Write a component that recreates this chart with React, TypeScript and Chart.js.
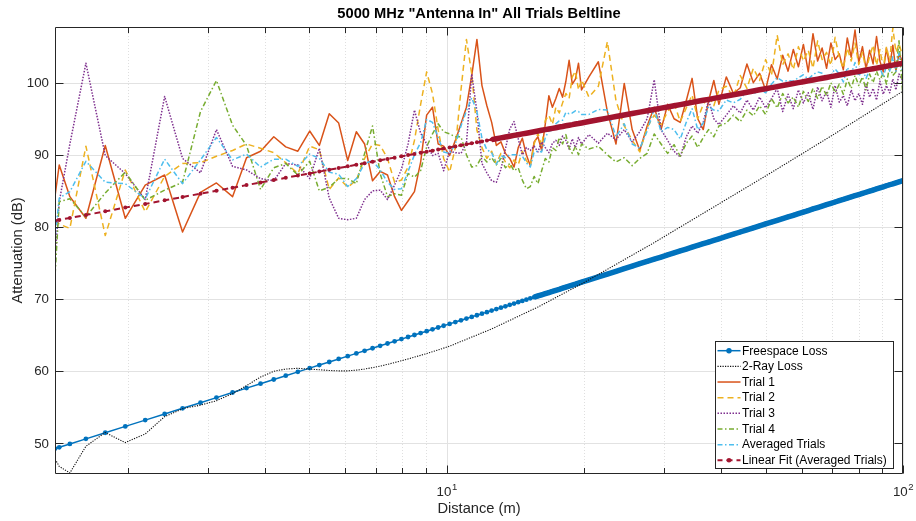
import React, { useEffect, useRef } from "react";
import { Chart, registerables } from "chart.js";

Chart.register(...registerables);

// Distances (m) shared by every series
const distance = [
  1.387, 1.416, 1.494, 1.62, 1.786, 1.976, 2.185, 2.41, 2.638, 2.888, 3.13, 3.395, 3.643, 3.91, 4.18, 4.44, 4.72, 5.01, 5.26, 5.53, 5.8, 6.07, 6.34, 6.61, 6.88, 7.15, 7.42, 7.69, 7.96, 8.23, 8.5, 8.77, 9.04, 9.31, 9.58, 9.85,
  10.15, 10.45, 10.75, 11.05, 11.35, 11.65, 11.95, 12.25, 12.55, 12.85, 13.15, 13.45, 13.75, 14.05, 14.35, 14.65, 14.95, 15.25, 15.55, 15.85, 16.15, 16.45, 16.75, 17.05, 17.35, 17.65, 17.95, 18.25, 18.55, 18.85, 19.15, 19.45, 19.75,
  20.5, 21.5, 22.5, 23.5, 24.5, 25.5, 26.5, 27.5, 28.5, 29.5, 30.5, 31.5, 32.5, 33.5, 34.5, 35.5, 36.5, 37.5, 38.5, 39.5,
  41, 42.5, 44, 45.5, 47, 48.5, 50, 51.5, 53, 54.5, 56, 57.5, 59, 60.5, 62, 63.5, 65, 66.5, 68, 69.5, 71, 72.5, 74, 75.5, 77, 78.5, 80, 81.5, 83, 84.5, 86, 87.5, 89, 90.5, 92, 93.5, 95, 96.5, 98, 100,
];

const freespaceLoss = [
  49.27, 49.45, 49.92, 50.62, 51.47, 52.35, 53.22, 54.07, 54.86, 55.64, 56.34, 57.05, 57.66, 58.27, 58.85, 59.38, 59.91, 60.43, 60.85, 61.28, 61.7, 62.09, 62.47, 62.83, 63.18, 63.52, 63.84, 64.15, 64.45, 64.74, 65.02, 65.29, 65.55, 65.81, 66.06, 66.3,
  66.56, 66.81, 67.06, 67.3, 67.53, 67.76, 67.98, 68.19, 68.4, 68.61, 68.81, 69.0, 69.2, 69.38, 69.57, 69.75, 69.92, 70.1, 70.26, 70.43, 70.59, 70.75, 70.91, 71.06, 71.22, 71.36, 71.51, 71.66, 71.8, 71.94, 72.07, 72.21, 72.34,
  72.67, 73.08, 73.47, 73.85, 74.21, 74.56, 74.9, 75.22, 75.53, 75.83, 76.12, 76.4, 76.67, 76.93, 77.19, 77.43, 77.68, 77.91, 78.14, 78.36,
  78.69, 79.0, 79.3, 79.59, 79.87, 80.14, 80.41, 80.67, 80.92, 81.16, 81.39, 81.62, 81.85, 82.07, 82.28, 82.49, 82.69, 82.89, 83.08, 83.27, 83.46, 83.64, 83.81, 83.99, 84.16, 84.33, 84.49, 84.65, 84.81, 84.97, 85.12, 85.27, 85.42, 85.56, 85.71, 85.85, 85.98, 86.12, 86.25, 86.43,
];

const twoRayLoss = [
  47.8, 46.8, 45.9, 49.6, 51.5, 50.1, 51.3, 53.7, 54.8, 55.3, 55.9, 56.9, 58.0, 59.2, 60.0, 60.3, 60.4, 60.3, 60.2, 60.1, 60.05, 60.05, 60.15, 60.3, 60.5, 60.7, 60.95, 61.2, 61.45, 61.7, 61.95, 62.2, 62.45, 62.7, 62.95, 63.2,
  63.47, 63.8, 64.12, 64.43, 64.73, 65.02, 65.31, 65.59, 65.86, 66.17, 66.47, 66.76, 67.05, 67.33, 67.61, 67.88, 68.14, 68.4, 68.65, 68.9, 69.17, 69.44, 69.7, 69.96, 70.22, 70.47, 70.71, 70.95, 71.19, 71.42, 71.65, 71.88, 72.1,
  72.67, 73.42, 74.13, 74.81, 75.46, 76.09, 76.69, 77.27, 77.83, 78.4, 78.95, 79.48, 79.99, 80.49, 80.97, 81.44, 81.9, 82.34, 82.77, 83.19,
  83.81, 84.4, 84.97, 85.52, 86.05, 86.57, 87.07, 87.56, 88.04, 88.51, 88.96, 89.41, 89.84, 90.26, 90.67, 91.08, 91.47, 91.85, 92.23, 92.59, 92.95, 93.31, 93.66, 94.0, 94.34, 94.67, 95.0, 95.32, 95.63, 95.94, 96.24, 96.53, 96.83, 97.11, 97.39, 97.67, 97.94, 98.21, 98.48, 98.83,
];

const trial1 = [
  84.4, 88.6, 84.2, 81.2, 91.3, 81.2, 85.8, 87.2, 79.3, 84.8, 86.1, 84.2, 89.6, 90.5, 92.5, 91.1, 90.5, 93.3, 91.3, 95.7, 94.4, 89.2, 93.2, 91.5, 86.4, 87.7, 87.2, 84.2, 82.3, 83.6, 84.9, 89.0, 95.5, 96.6, 91.5, 91.2,
  89.9, 92.0, 94.3, 96.6, 101.0, 106.0, 99.6, 96.8, 94.5, 91.3, 91.8, 90.2, 89.5, 88.3, 91.0, 92.3, 90.0, 88.5, 91.8, 92.5, 90.6, 94.3, 98.2, 96.6, 97.8, 99.2, 98.0, 100.2, 103.1, 99.8, 100.5, 102.7, 99.0,
  100.8, 102.9, 96.0, 91.5, 99.9, 93.5, 90.6, 94.0, 96.6, 93.5, 97.0, 95.0, 94.5, 97.5, 100.6, 95.0, 93.5, 97.5, 100.3, 97.0,
  100.8, 98.5, 99.3, 102.6, 100.0, 101.3, 99.0, 102.5, 100.5, 103.8, 101.6, 104.6, 102.2, 105.3, 101.5, 106.8, 103.0, 104.8, 102.0, 105.5, 103.2, 104.0, 101.8, 106.2, 103.5, 107.3, 102.8, 105.0, 101.9, 104.5, 102.6, 106.4, 103.0, 101.5, 104.8, 102.2, 105.2, 101.6, 104.0, 102.8,
];

const trial2 = [
  81.0, 80.4, 79.8, 91.2, 78.8, 87.9, 82.1, 87.0, 88.8, 88.9, 89.8, 90.6, 91.5, 90.9, 90.3, 88.9, 87.4, 91.2, 90.7, 85.2, 86.8, 85.5, 86.5, 89.5, 91.5, 91.3, 89.5, 86.2, 86.5, 88.3, 92.0, 97.0, 101.5, 98.5, 93.5, 89.5,
  87.6, 91.0, 99.0, 106.0, 101.2, 93.4, 91.0, 89.5, 90.5, 88.8, 90.2, 89.0, 88.2, 89.3, 88.6, 90.5, 89.2, 88.5, 91.5, 93.0, 91.2, 94.8, 95.5, 94.2, 96.6, 95.8, 97.2, 98.5, 97.8, 100.8, 101.6, 99.0, 100.4,
  98.0, 99.5, 105.7, 97.5, 94.0, 92.0, 90.4, 93.8, 95.5, 94.2, 96.0, 97.2, 94.6, 96.5, 98.3, 95.0, 97.0, 98.2, 96.8, 99.0,
  99.5, 98.0, 101.0, 99.2, 102.0, 100.3, 103.2, 101.0, 106.6, 102.5, 104.0, 101.8, 105.0, 103.0, 104.5, 102.0, 105.8, 103.2, 104.2, 102.4, 106.3, 103.5, 102.0, 104.8, 103.0, 105.5, 102.5, 104.2, 101.8, 103.6, 105.2, 102.4, 104.6, 102.0, 105.0, 103.0, 107.6, 104.2, 105.4, 103.5,
];

const trial3 = [
  76.0, 83.5, 91.5, 102.7, 89.9, 87.4, 83.8, 98.1, 89.5, 87.5, 93.5, 88.4, 87.9, 86.7, 86.4, 88.8, 88.6, 86.7, 90.9, 84.0, 81.2, 81.0, 81.2, 83.8, 85.0, 85.1, 83.8, 85.8, 88.0, 91.5, 96.2, 93.0, 91.5, 89.9, 90.2, 87.8,
  90.5, 90.3, 90.2, 91.6, 101.2, 96.0, 88.8, 87.5, 86.4, 86.2, 88.0, 90.8, 93.6, 94.6, 92.2, 90.0, 91.0, 90.6, 91.2, 90.4, 91.8, 91.0, 90.3, 91.6, 92.0, 91.3, 92.6, 92.0, 90.8, 92.2, 91.0, 92.4, 91.5,
  92.8, 91.6, 93.0, 92.1, 93.5, 91.8, 93.2, 95.0, 100.4, 93.5, 92.0, 90.5, 89.7, 92.5, 94.0, 93.0, 94.5, 97.6, 95.0, 94.2,
  95.5, 96.8, 95.8, 97.6, 96.2, 98.0, 96.5, 97.8, 99.2, 96.0, 98.4, 96.4, 99.0, 97.2, 98.6, 96.3, 99.4, 97.5, 98.8, 96.6, 99.6, 97.3, 98.2, 96.8, 99.0, 97.5, 98.5, 97.0, 99.8, 98.0, 99.2, 97.6, 100.2, 98.4, 99.6, 98.6, 100.5, 99.0, 101.2, 100.2,
];

const trial4 = [
  73.5, 83.5, 83.9, 81.4, 84.7, 87.6, 83.7, 85.1, 86.2, 96.0, 100.3, 94.1, 91.3, 85.2, 88.2, 88.8, 87.2, 89.1, 85.0, 85.5, 86.7, 86.7, 86.0, 90.2, 94.0, 87.4, 84.2, 84.6, 84.4, 87.4, 86.9, 87.8, 91.1, 92.9, 94.3, 93.2,
  92.9, 92.5, 92.5, 90.0, 88.3, 88.5, 89.8, 89.0, 89.6, 88.6, 89.5, 88.2, 88.8, 87.8, 88.2, 86.5, 85.3, 85.6, 87.0, 86.0, 87.8, 89.5, 89.0, 91.0, 90.6, 92.4, 91.5, 92.8, 91.0, 90.2, 91.2, 90.0, 91.5,
  90.8, 91.2, 90.0, 89.0, 89.6, 88.5, 89.5, 90.2, 92.9, 91.5, 90.2, 91.4, 89.8, 91.6, 92.6, 91.0, 92.4, 93.5, 92.5, 94.0,
  94.4, 95.5, 94.6, 96.2, 95.4, 96.8, 95.6, 97.8, 96.5, 98.5, 97.2, 98.0, 96.6, 98.8, 97.4, 99.2, 97.8, 99.5, 98.2, 100.0, 98.6, 99.8, 98.4, 100.5, 99.2, 101.0, 99.6, 100.8, 99.0, 101.2, 100.0, 101.6, 100.4, 101.3, 99.8, 102.4, 101.0, 101.5, 105.8, 97.8,
];

const averagedTrials = [
  78.7, 84.0, 84.9, 89.1, 86.2, 86.0, 83.9, 89.4, 86.0, 89.3, 92.4, 89.3, 90.1, 88.3, 89.4, 89.4, 88.4, 90.1, 89.5, 87.6, 87.3, 85.6, 86.7, 88.8, 89.2, 87.9, 86.2, 85.2, 85.3, 87.7, 90.0, 91.7, 94.9, 94.5, 92.4, 90.4,
  90.2, 91.5, 94.0, 96.1, 97.9, 96.0, 92.3, 90.7, 90.3, 88.7, 89.9, 89.6, 90.0, 90.0, 90.0, 89.8, 88.9, 88.3, 90.4, 90.5, 90.4, 92.4, 93.3, 93.4, 94.3, 94.7, 94.8, 95.9, 95.7, 95.8, 96.1, 96.0, 95.6,
  95.6, 96.3, 96.2, 92.5, 94.3, 91.5, 90.9, 93.3, 96.4, 93.2, 93.8, 93.5, 92.2, 94.5, 96.4, 93.5, 94.4, 96.7, 96.2, 96.1,
  97.6, 97.2, 97.7, 98.9, 98.4, 99.1, 98.6, 99.8, 100.7, 100.2, 100.3, 100.2, 100.7, 101.1, 100.5, 101.1, 101.5, 101.3, 100.8, 101.1, 101.9, 101.2, 100.1, 102.1, 101.2, 102.8, 100.9, 101.8, 100.6, 101.8, 101.8, 102.0, 102.1, 100.8, 102.3, 101.6, 103.6, 101.6, 104.1, 101.1,
];

const linearFit = [
  80.87, 80.98, 81.25, 81.66, 82.16, 82.68, 83.19, 83.69, 84.15, 84.61, 85.02, 85.44, 85.8, 86.16, 86.5, 86.81, 87.12, 87.42, 87.67, 87.93, 88.17, 88.4, 88.62, 88.84, 89.04, 89.24, 89.43, 89.61, 89.79, 89.96, 90.12, 90.28, 90.44, 90.58, 90.73, 90.87,
  91.03, 91.17, 91.32, 91.46, 91.6, 91.73, 91.86, 91.99, 92.11, 92.23, 92.35, 92.46, 92.57, 92.69, 92.79, 92.9, 93.0, 93.1, 93.2, 93.3, 93.4, 93.49, 93.58, 93.67, 93.76, 93.85, 93.93, 94.02, 94.1, 94.18, 94.27, 94.34, 94.42,
  94.61, 94.86, 95.09, 95.31, 95.52, 95.73, 95.92, 96.11, 96.29, 96.47, 96.64, 96.81, 96.96, 97.12, 97.27, 97.42, 97.56, 97.69, 97.83, 97.96,
  98.15, 98.33, 98.51, 98.68, 98.85, 99.01, 99.16, 99.31, 99.46, 99.6, 99.74, 99.88, 100.01, 100.14, 100.26, 100.38, 100.5, 100.62, 100.73, 100.84, 100.95, 101.06, 101.16, 101.27, 101.37, 101.46, 101.56, 101.66, 101.75, 101.84, 101.93, 102.02, 102.11, 102.19, 102.27, 102.36, 102.44, 102.52, 102.6, 102.7,
];

const seriesNames = [
  "Freespace Loss",
  "2-Ray Loss",
  "Trial 1",
  "Trial 2",
  "Trial 3",
  "Trial 4",
  "Averaged Trials",
  "Linear Fit (Averaged Trials)",
];

const yTicks = [50, 60, 70, 80, 90, 100];
const xMajorTicks = [10, 100];
const xMajorExponents = ["1", "2"];
const xMinorTicks = [2, 3, 4, 5, 6, 7, 8, 9, 20, 30, 40, 50, 60, 70, 80, 90];

const titleText = '5000 MHz "Antenna In" All Trials Beltline';
const xLabelText = "Distance (m)";
const yLabelText = "Attenuation (dB)";

const X_MIN = 1.386;
const X_MAX = 100;
const Y_MIN = 45.75;
const Y_MAX = 107.72;

const FONT = '"Liberation Sans", Arial, Helvetica, sans-serif';
const AXIS_COLOR = "#262626";

type SeriesStyle = {
  color: string;
  width: number;
  dash: number[];
  marker: number;
  // distance (m) past which the markers merge into a solid band
  bandFrom?: number;
  bandWidth?: number;
};

const seriesStyles: SeriesStyle[] = [
  { color: "#0072BD", width: 1.5, dash: [], marker: 2.4, bandFrom: 15.5, bandWidth: 5.5 },
  { color: "#111111", width: 1.1, dash: [1.2, 1.3], marker: 0 },
  { color: "#D95319", width: 1.5, dash: [], marker: 0 },
  { color: "#EDB120", width: 1.5, dash: [6, 4], marker: 0 },
  { color: "#7E2F8E", width: 1.5, dash: [1.5, 1.5], marker: 0 },
  { color: "#77AC30", width: 1.5, dash: [5, 2.5, 1.5, 2.5], marker: 0 },
  { color: "#4DBEEE", width: 1.5, dash: [5, 2.5, 1.5, 2.5], marker: 0 },
  { color: "#A2142F", width: 2, dash: [6, 4], marker: 2, bandFrom: 12.5, bandWidth: 5.5 },
];

const seriesValues = [
  freespaceLoss,
  twoRayLoss,
  trial1,
  trial2,
  trial3,
  trial4,
  averagedTrials,
  linearFit,
];

// Grid, box, inward ticks, labels, title and legend in MATLAB style
const matlabAxes = {
  id: "matlabAxes",
  beforeDatasetsDraw(chart: any) {
    const { ctx, chartArea: a } = chart;
    const xs = chart.scales.x;
    const ys = chart.scales.y;
    ctx.save();
    ctx.lineWidth = 1;
    ctx.strokeStyle = "rgba(38,38,38,0.15)";
    ctx.setLineDash([1, 2]);
    ctx.beginPath();
    for (const v of xMinorTicks) {
      const px = Math.round(xs.getPixelForValue(v)) + 0.5;
      ctx.moveTo(px, a.top);
      ctx.lineTo(px, a.bottom);
    }
    ctx.stroke();
    ctx.setLineDash([]);
    ctx.strokeStyle = "#e2e2e2";
    ctx.beginPath();
    for (const v of yTicks) {
      const py = Math.round(ys.getPixelForValue(v)) + 0.5;
      ctx.moveTo(a.left, py);
      ctx.lineTo(a.right, py);
    }
    for (const v of xMajorTicks) {
      const px = Math.round(xs.getPixelForValue(v)) + 0.5;
      ctx.moveTo(px, a.top);
      ctx.lineTo(px, a.bottom);
    }
    ctx.stroke();
    ctx.restore();
  },
  afterDatasetsDraw(chart: any) {
    const { ctx, chartArea: a } = chart;
    const xs = chart.scales.x;
    const ys = chart.scales.y;
    const L = Math.round(a.left) + 0.5;
    const R = Math.round(a.right) - 0.5;
    const T = Math.round(a.top) + 0.5;
    const B = Math.round(a.bottom) - 0.5;
    ctx.save();

    // box and ticks
    ctx.strokeStyle = AXIS_COLOR;
    ctx.lineWidth = 1;
    ctx.setLineDash([]);
    ctx.beginPath();
    ctx.rect(L, T, R - L, B - T);
    for (const v of yTicks) {
      const py = Math.round(ys.getPixelForValue(v)) + 0.5;
      ctx.moveTo(L, py);
      ctx.lineTo(L + 8, py);
      ctx.moveTo(R, py);
      ctx.lineTo(R - 8, py);
    }
    for (const v of xMinorTicks) {
      const px = Math.round(xs.getPixelForValue(v)) + 0.5;
      ctx.moveTo(px, B);
      ctx.lineTo(px, B - 5.5);
      ctx.moveTo(px, T);
      ctx.lineTo(px, T + 5.5);
    }
    for (const v of xMajorTicks) {
      const px = Math.round(xs.getPixelForValue(v)) + 0.5;
      ctx.moveTo(px, B);
      ctx.lineTo(px, B - 8);
      ctx.moveTo(px, T);
      ctx.lineTo(px, T + 8);
    }
    ctx.stroke();

    // y tick labels
    ctx.fillStyle = AXIS_COLOR;
    ctx.font = `13.3px ${FONT}`;
    ctx.textAlign = "right";
    ctx.textBaseline = "middle";
    for (const v of yTicks) {
      ctx.fillText(String(v), a.left - 6, ys.getPixelForValue(v) + 0.5);
    }

    // x tick labels as powers of ten
    xMajorTicks.forEach((v, i) => {
      const px = xs.getPixelForValue(v);
      ctx.font = `13.3px ${FONT}`;
      const wBase = ctx.measureText("10").width;
      ctx.font = `9.5px ${FONT}`;
      const wExp = ctx.measureText(xMajorExponents[i]).width;
      const start = px - (wBase + wExp) / 2;
      ctx.textAlign = "left";
      ctx.font = `13.3px ${FONT}`;
      ctx.fillText("10", start, a.bottom + 18.5);
      ctx.font = `9.5px ${FONT}`;
      ctx.fillText(xMajorExponents[i], start + wBase + 0.5, a.bottom + 13);
    });

    // axis labels
    ctx.font = `14.7px ${FONT}`;
    ctx.textAlign = "center";
    ctx.fillText(xLabelText, (a.left + a.right) / 2, a.bottom + 35);
    ctx.save();
    ctx.translate(17.5, (a.top + a.bottom) / 2);
    ctx.rotate(-Math.PI / 2);
    ctx.fillText(yLabelText, 0, 0);
    ctx.restore();

    // title
    ctx.fillStyle = "#000";
    ctx.font = `bold 14.7px ${FONT}`;
    ctx.fillText(titleText, (a.left + a.right) / 2, a.top - 13);

    // legend
    const lx = 715.5;
    const ly = 341.5;
    const lw = 178;
    const lh = 127;
    ctx.fillStyle = "#ffffff";
    ctx.fillRect(lx, ly, lw, lh);
    ctx.strokeStyle = AXIS_COLOR;
    ctx.lineWidth = 1;
    ctx.strokeRect(lx, ly, lw, lh);
    seriesNames.forEach((name, i) => {
      const s = seriesStyles[i];
      const ry = 350.7 + i * 15.66;
      ctx.save();
      ctx.strokeStyle = s.color;
      ctx.lineWidth = s.width;
      ctx.lineCap = "butt";
      ctx.setLineDash(s.dash);
      ctx.lineDashOffset = s.marker > 0 && s.dash.length ? 1 : 0;
      ctx.beginPath();
      ctx.moveTo(717.5, ry);
      ctx.lineTo(740.5, ry);
      ctx.stroke();
      if (s.marker > 0) {
        ctx.fillStyle = s.color;
        ctx.beginPath();
        ctx.arc(729, ry, s.marker + 0.3, 0, Math.PI * 2);
        ctx.fill();
      }
      ctx.restore();
      ctx.fillStyle = "#000";
      ctx.font = `12px ${FONT}`;
      ctx.textAlign = "left";
      ctx.textBaseline = "middle";
      ctx.fillText(name, 742, ry + 0.5);
    });

    ctx.restore();
  },
};

export default function App() {
  const canvasRef = useRef<HTMLCanvasElement | null>(null);

  useEffect(() => {
    document.body.style.margin = "0";
    const canvas = canvasRef.current;
    if (!canvas) return;

    const datasets = seriesValues.map((vals, i) => {
      const s = seriesStyles[i];
      const from = s.bandFrom;
      return {
        label: seriesNames[i],
        data: distance.map((d, k) => ({ x: d, y: vals[k] })),
        borderColor: s.color,
        backgroundColor: s.color,
        borderWidth: s.width,
        borderDash: s.dash,
        borderCapStyle: "butt" as const,
        borderJoinStyle: "round" as const,
        pointRadius: s.marker,
        pointHoverRadius: s.marker,
        pointBorderWidth: 0,
        pointBackgroundColor: s.color,
        tension: 0,
        fill: false,
        clip: 0,
        order: seriesValues.length - 1 - i,
        segment:
          from !== undefined
            ? {
                borderWidth: (c: any) => (c.p0.parsed.x >= from ? s.bandWidth : s.width),
                borderDash: (c: any) => (c.p0.parsed.x >= from ? [] : s.dash),
              }
            : undefined,
      };
    });

    const chart = new Chart(canvas, {
      type: "line",
      data: { datasets },
      options: {
        responsive: false,
        maintainAspectRatio: false,
        animation: false,
        devicePixelRatio: 1,
        events: [],
        layout: { padding: { left: 55, right: 13, top: 27, bottom: 47 } },
        scales: {
          x: {
            type: "logarithmic",
            min: X_MIN,
            max: X_MAX,
            bounds: "data",
            display: false,
          },
          y: {
            type: "linear",
            min: Y_MIN,
            max: Y_MAX,
            bounds: "data",
            display: false,
          },
        },
        plugins: {
          legend: { display: false },
          title: { display: false },
          tooltip: { enabled: false },
        },
      } as any,
      plugins: [matlabAxes],
    });

    return () => chart.destroy();
  }, []);

  return (
    <div style={{ position: "absolute", left: 0, top: 0, width: 916, height: 521, background: "#ffffff" }}>
      <canvas ref={canvasRef} width={916} height={521} style={{ display: "block" }} />
    </div>
  );
}
